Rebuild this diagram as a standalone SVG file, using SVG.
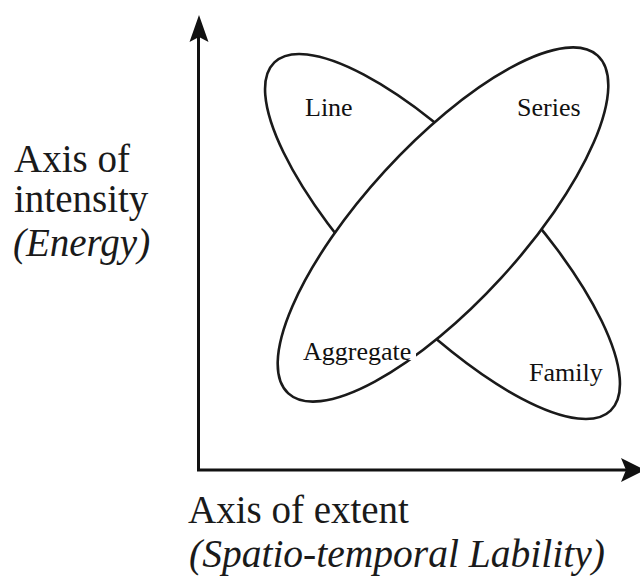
<svg xmlns="http://www.w3.org/2000/svg" width="640" height="584" viewBox="0 0 640 584">
<style>
.ax{stroke:#111;stroke-width:3;fill:none}
.ah{fill:#111;stroke:none}
.el{stroke:#1a1a1a;stroke-width:2.6}
</style>
<rect width="640" height="584" fill="#fff"/>
<g id="axes">
<line class="ax" x1="198.5" y1="34" x2="198.5" y2="471"/>
<line class="ax" x1="197" y1="470" x2="628" y2="470"/>
<polygon class="ah" points="199,15 208.5,42 199,37 189.5,42"/>
<polygon class="ah" points="645,470 621,458 626,470 621,482"/>
</g>
<g id="node-line-family">
<ellipse class="el" cx="442.5" cy="236.5" rx="242" ry="79" transform="rotate(46 442.5 236.5)" fill="none"/>
</g>
<g id="node-aggregate-series">
<ellipse class="el" cx="443" cy="224.5" rx="229" ry="79" transform="rotate(-47.5 443 224.5)" fill="#fff"/>
</g>
<rect x="300" y="336" width="116" height="24" fill="#fff"/>
<g id="labels" font-family="Liberation Serif, Times New Roman, serif" font-size="26" fill="#111">
<text x="305" y="116">Line</text>
<text x="517" y="116">Series</text>
<text x="303" y="360">Aggregate</text>
<text x="529" y="381">Family</text>
</g>
<g id="axis-labels" font-family="Liberation Serif, Times New Roman, serif" font-size="39" fill="#1a1a1a">
<text x="14" y="172">Axis of</text>
<text x="14" y="212">intensity</text>
<text x="13" y="256" font-style="italic">(Energy)</text>
<text x="188" y="523">Axis of extent</text>
<text x="189" y="567" font-style="italic" font-size="39.5">(Spatio-temporal Lability)</text>
</g>
</svg>
